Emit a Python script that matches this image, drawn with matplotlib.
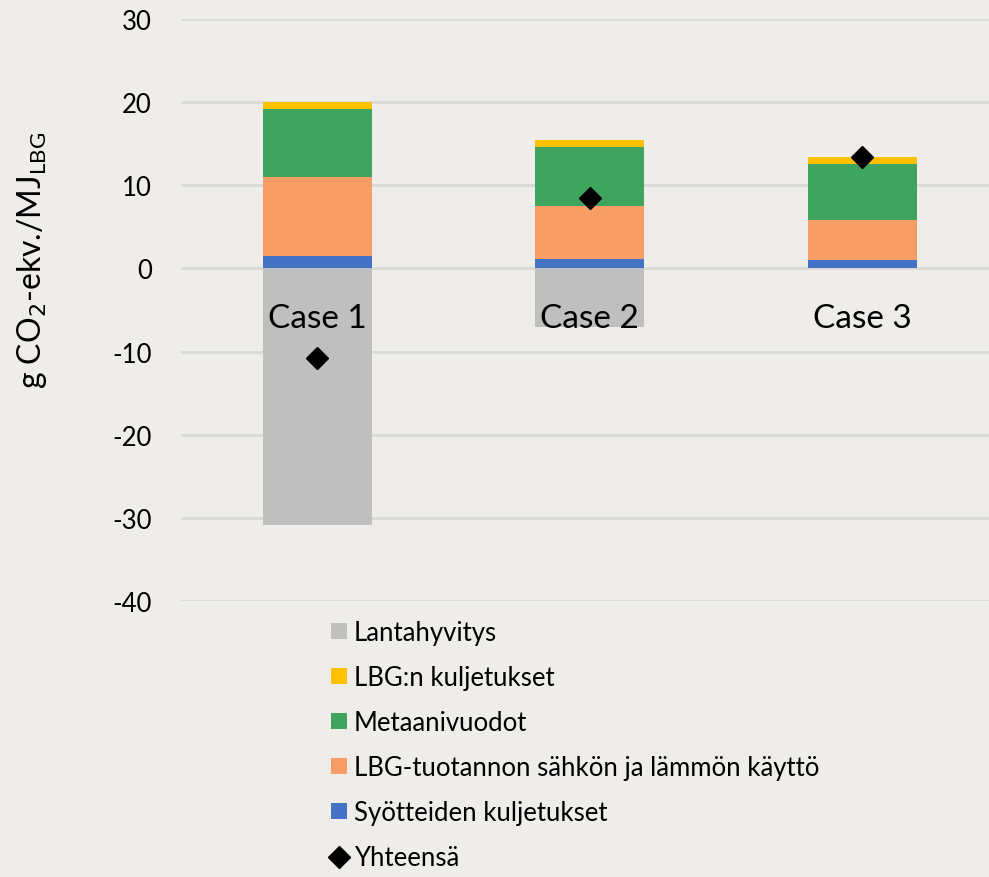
import matplotlib
matplotlib.use("Agg")
import matplotlib.pyplot as plt
from matplotlib.patches import Patch
from matplotlib.lines import Line2D

plt.rcParams['font.family'] = ['Lato', 'DejaVu Sans']

categories = ["Case 1", "Case 2", "Case 3"]
syotteiden = [1.48, 1.17, 0.96]
lbg_tuotanto = [9.57, 6.30, 4.82]
metaani = [8.10, 7.11, 6.75]
lbg_kuljetus = [0.81, 0.88, 0.84]
lanta = [-30.84, -7.03, 0.0]
yhteensa = [-10.8, 8.5, 13.4]

series_names = ["Syötteiden kuljetukset", "LBG-tuotannon sähkön ja lämmön käyttö",
                "Metaanivuodot", "LBG:n kuljetukset"]
series_vals = [syotteiden, lbg_tuotanto, metaani, lbg_kuljetus]
series_cols = ["#4472C4", "#F79D66", "#3FA45E", "#FFC000"]
lanta_name = "Lantahyvitys"
lanta_col = "#BFBFBF"
total_name = "Yhteensä"
yticks = [-40, -30, -20, -10, 0, 10, 20, 30]

bg = "#EEEDEA"
W, H = 989, 878
fig = plt.figure(figsize=(W / 100, H / 100), dpi=100, facecolor=bg)
ax_left, ax_top, ax_bot = 181, 20, 602
ax = fig.add_axes([ax_left / W, 1 - ax_bot / H, 1 - ax_left / W, (ax_bot - ax_top) / H])
ax.set_facecolor(bg)

x = list(range(len(categories)))
width = 0.4
bottom = [0.0] * len(x)
handles = {}
for name, vals, col in zip(series_names, series_vals, series_cols):
    b = ax.bar(x, vals, width, bottom=bottom, color=col, zorder=2, label=name)
    handles[name] = b
    bottom = [bb + v for bb, v in zip(bottom, vals)]
bl = ax.bar(x, lanta, width, color=lanta_col, zorder=2, label=lanta_name)
handles[lanta_name] = bl
ln, = ax.plot(x, yhteensa, linestyle='none', marker='D', markersize=11,
              color='black', zorder=4, label=total_name)

ax.set_ylim(-40, 30)
ax.set_xlim(-0.5, -0.5 + (W - ax_left) / 272.5)
ax.set_yticks(yticks)
ax.set_yticklabels([str(t) for t in yticks], fontsize=18.5)
ax.tick_params(axis='y', length=0, pad=21)
ax.set_xticks([])
ax.yaxis.grid(True, color='#D9D9D9', linewidth=2, zorder=0)
ax.set_axisbelow(True)
for s in ax.spines.values():
    s.set_visible(False)

for xi, c in zip(x, categories):
    ax.text(xi, -6.0, c, ha='center', va='center', fontsize=24, zorder=3)

fig.text(32 / W, 1 - 260 / H, r"g CO$_2$-ekv./MJ$_\mathregular{LBG}$",
         rotation=90, ha='center', va='center', fontsize=23)

leg_order = [lanta_name, "LBG:n kuljetukset", "Metaanivuodot",
             "LBG-tuotannon sähkön ja lämmön käyttö", "Syötteiden kuljetukset"]
hs = [Patch(facecolor=handles[n].patches[0].get_facecolor(), edgecolor='none') for n in leg_order]
hs.append(Line2D([], [], linestyle='none', marker='D', markersize=11, color='black'))
labels = leg_order + [total_name]
leg = fig.legend(hs, labels, loc='upper left', bbox_to_anchor=(331 / W, 1 - 621 / H),
                 frameon=False, fontsize=18.5, handlelength=0.62, handleheight=0.62,
                 handletextpad=0.28, labelspacing=0.78, borderaxespad=0, borderpad=0)

fig.savefig("out.png", dpi=100, facecolor=bg)
